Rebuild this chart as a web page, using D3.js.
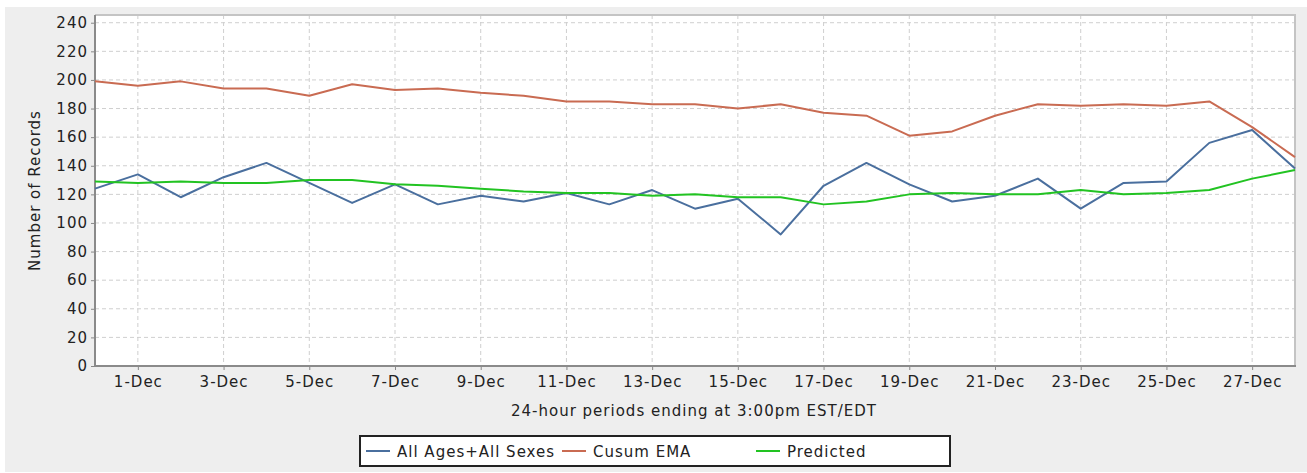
<!DOCTYPE html>
<html>
<head>
<meta charset="utf-8">
<script src="https://cdn.jsdelivr.net/npm/d3@7"></script>
<style>
  html, body { margin: 0; padding: 0; background: #ffffff; }
  svg { display: block; }
  text { font-family: "DejaVu Sans", sans-serif; fill: #222; }
</style>
</head>
<body>
<svg id="chart" width="1307" height="473"></svg>
<script>
const days = ["30-Nov","1-Dec","2-Dec","3-Dec","4-Dec","5-Dec","6-Dec","7-Dec","8-Dec","9-Dec","10-Dec",
  "11-Dec","12-Dec","13-Dec","14-Dec","15-Dec","16-Dec","17-Dec","18-Dec","19-Dec","20-Dec",
  "21-Dec","22-Dec","23-Dec","24-Dec","25-Dec","26-Dec","27-Dec","28-Dec"];
const xTickLabels = ["1-Dec","3-Dec","5-Dec","7-Dec","9-Dec","11-Dec","13-Dec","15-Dec","17-Dec",
  "19-Dec","21-Dec","23-Dec","25-Dec","27-Dec"];
const yTicks = [0,20,40,60,80,100,120,140,160,180,200,220,240];
const allAges = [124,134,118,132,142,128,114,127,113,119,115,121,113,123,110,117,92,126,142,127,115,119,131,110,128,129,156,165,138];
const cusumEMA = [199,196,199,194,194,189,197,193,194,191,189,185,185,183,183,180,183,177,175,161,164,175,183,182,183,182,185,167,146];
const predicted = [129,128,129,128,128,130,130,127,126,124,122,121,121,119,120,118,118,113,115,120,121,120,120,123,120,121,123,131,137];
const seriesNames = ["All Ages+All Sexes","Cusum EMA","Predicted"];
const seriesColors = ["#4a6f9e","#c96b52","#22c322"];
const xTitle = "24-hour periods ending at 3:00pm EST/EDT";
const yTitle = "Number of Records";

const svg = d3.select("#chart");
const L = 95, R = 1295, T = 15, B = 366;
const ls = "1px";

svg.append("rect").attr("x",5).attr("y",7).attr("width",1302).attr("height",465).attr("fill","#eeeeee");
svg.append("rect").attr("x",L).attr("y",T).attr("width",R-L).attr("height",B-T).attr("fill","#ffffff");

const x = d3.scalePoint().domain(days).range([L,R]).padding(0);
const y = d3.scaleLinear().domain([0,245.4]).range([B,T]);

// grid
const g = svg.append("g");
g.selectAll("line.h").data(yTicks).join("line")
  .attr("x1",L).attr("x2",R).attr("y1",d=>y(d)).attr("y2",d=>y(d))
  .attr("stroke","#cfcfcf").attr("stroke-width",1).attr("stroke-dasharray","4,3");
g.selectAll("line.v").data(xTickLabels).join("line")
  .attr("x1",d=>x(d)).attr("x2",d=>x(d)).attr("y1",T).attr("y2",B)
  .attr("stroke","#cfcfcf").attr("stroke-width",1).attr("stroke-dasharray","4,3");

// top/right border
svg.append("path").attr("d",`M${L},${T}H${R}V${B}`).attr("fill","none").attr("stroke","#c4c4c4").attr("stroke-width",2);

// axes
const yAxis = svg.append("g").attr("transform",`translate(${L},0)`)
  .call(d3.axisLeft(y).tickValues(yTicks).tickSize(4).tickPadding(3));
const xAxis = svg.append("g").attr("transform",`translate(0,${B})`)
  .call(d3.axisBottom(x).tickValues(xTickLabels).tickSize(4).tickPadding(6));
[yAxis,xAxis].forEach(a=>{
  a.select(".domain").remove();
  a.selectAll(".tick line").attr("stroke","#888");
  a.selectAll(".tick text").attr("font-size",15).style("letter-spacing",ls).attr("fill","#222")
   .attr("font-family","DejaVu Sans");
});
svg.append("line").attr("x1",L).attr("x2",L).attr("y1",T).attr("y2",B+1).attr("stroke","#8a8a8a").attr("stroke-width",2);
svg.append("line").attr("x1",L-1).attr("x2",R+1).attr("y1",B).attr("y2",B).attr("stroke","#8a8a8a").attr("stroke-width",2);

// lines
const line = d3.line().x((d,i)=>x(days[i])).y(d=>y(d));
[allAges,cusumEMA,predicted].forEach((s,k)=>{
  svg.append("path").datum(s).attr("d",line).attr("fill","none")
    .attr("stroke",seriesColors[k]).attr("stroke-width",2).attr("stroke-linejoin","round");
});

// titles
svg.append("text").attr("x",(L+R)/2 - 1).attr("y",416).attr("text-anchor","middle")
  .attr("font-size",15).style("letter-spacing",ls).text(xTitle);
svg.append("text").attr("transform",`translate(40,${(T+B)/2}) rotate(-90)`).attr("text-anchor","middle")
  .attr("font-size",15).style("letter-spacing",ls).text(yTitle);

// legend
svg.append("rect").attr("x",360).attr("y",436).attr("width",590).attr("height",30)
  .attr("fill","#ffffff").attr("stroke","#222").attr("stroke-width",2);
const legX = [366, 562, 756];
seriesNames.forEach((n,k)=>{
  svg.append("line").attr("x1",legX[k]).attr("x2",legX[k]+24).attr("y1",451).attr("y2",451)
    .attr("stroke",seriesColors[k]).attr("stroke-width",2);
  svg.append("text").attr("x",legX[k]+31).attr("y",456.5).attr("font-size",15)
    .style("letter-spacing",ls).text(n);
});
</script>
</body>
</html>
